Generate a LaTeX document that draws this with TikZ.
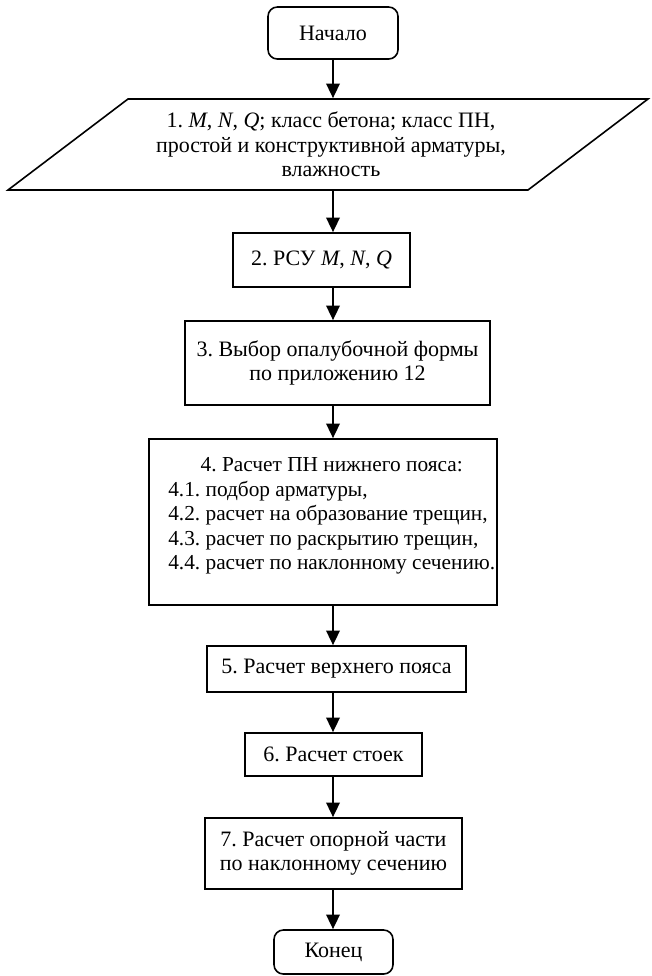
\documentclass[tikz,border=0pt]{standalone}
\usepackage{fontspec}
\setmainfont{Liberation Serif}
\usetikzlibrary{arrows.meta}
\begin{document}
\begin{tikzpicture}[x=0.75pt,y=-0.75pt,
  txtfont/.style={font=\fontsize{16.5}{18.4}\selectfont\frenchspacing},
  box/.style={draw,line width=1.2pt,inner sep=0pt,align=center,txtfont},
  term/.style={box,rounded corners=7pt},
  arr/.style={line width=1.8pt,-{Triangle[width=10pt,length=11pt]}},
  lbl/.style={inner sep=0pt,font=\fontsize{16}{18.4}\selectfont\frenchspacing}
]
\useasboundingbox (0,0) rectangle (651,976);
\coordinate (spine) at (333,0);

% start / input
\node[term,minimum width=97.5pt,minimum height=39pt] (start) at (333,33) {Начало};
\draw[line width=1.2pt,line join=miter] (128,99) -- (648,99) -- (528,190) -- (8,190) -- cycle;
\node[box,draw=none,minimum height=68.25pt] (in) at (331,144.5)
  {1. \textit{M}, \textit{N}, \textit{Q}; класс бетона; класс ПН,\\
   простой и конструктивной арматуры,\\
   влажность};

% process steps
\node[box,minimum width=132.75pt,minimum height=40.5pt] (b2) at (321.5,260)
  {2. РСУ \textit{M}, \textit{N}, \textit{Q}};
\node[box,minimum width=228.75pt,minimum height=63pt] (b3) at (337.5,363)
  {3. Выбор опалубочной формы\\по приложению 12};
\node[box,minimum width=261pt,minimum height=124.5pt] (b4) at (323,522) {};
\node[lbl,anchor=west] (b4t) at (168,516)
  {\begin{tabular}{@{}l@{}}
   \multicolumn{1}{@{}c@{}}{4. Расчет ПН нижнего пояса:}\\
   4.1. подбор арматуры,\\
   4.2. расчет на образование трещин,\\
   4.3. расчет по раскрытию трещин,\\
   4.4. расчет по наклонному сечению.
   \end{tabular}};
\node[box,minimum width=194.25pt,minimum height=34.5pt] (b5) at (336.5,669)
  {5. Расчет верхнего пояса};
\node[box,minimum width=132.75pt,minimum height=32.25pt] (b6) at (333.5,754.5)
  {6. Расчет стоек};
\node[box,minimum width=192.75pt,minimum height=53.25pt] (b7) at (333.5,853.5)
  {7. Расчет опорной части\\по наклонному сечению};
\node[term,minimum width=89.25pt,minimum height=33pt] (end) at (333.5,952) {Конец};

% flow
\draw[arr] (start.south -| spine) -- (in.north -| spine);
\draw[arr] (in.south -| spine) -- (b2.north -| spine);
\draw[arr] (b2.south -| spine) -- (b3.north -| spine);
\draw[arr] (b3.south -| spine) -- (b4.north -| spine);
\draw[arr] (b4.south -| spine) -- (b5.north -| spine);
\draw[arr] (b5.south -| spine) -- (b6.north -| spine);
\draw[arr] (b6.south -| spine) -- (b7.north -| spine);
\draw[arr] (b7.south -| spine) -- (end.north -| spine);
\end{tikzpicture}
\end{document}
